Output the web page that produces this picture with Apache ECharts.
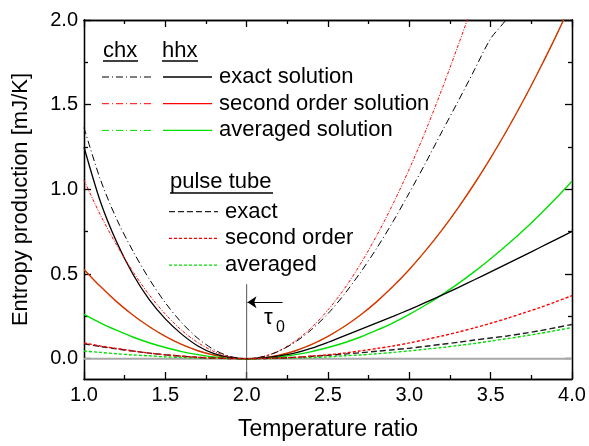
<!DOCTYPE html>
<html>
<head>
<meta charset="utf-8">
<title>Entropy production</title>
<script src="https://cdn.jsdelivr.net/npm/echarts@6.0.0/dist/echarts.min.js"></script>
<style>
html, body { margin: 0; padding: 0; background: #fff; }
#chart { width: 589px; height: 446px; }
</style>
</head>
<body>
<div id="chart"></div>
<script>
// temperature ratio samples
var temperatureRatio = [1.0, 1.1, 1.2, 1.3, 1.4, 1.5, 1.6, 1.7, 1.8, 1.9, 2.0,
  2.1, 2.2, 2.3, 2.4, 2.5, 2.6, 2.7, 2.8, 2.9, 3.0,
  3.1, 3.2, 3.3, 3.4, 3.5, 3.6, 3.7, 3.8, 3.9, 4.0];

// chx (dash-dot)
var chxExact = [1.365, 1.06, 0.826, 0.637, 0.472, 0.33, 0.213, 0.12, 0.053, 0.013, 0,
  0.012, 0.045, 0.099, 0.173, 0.266, 0.38, 0.51, 0.653, 0.81, 0.98,
  1.156, 1.34, 1.52, 1.705, 1.89, 2.01, 2.2, 2.37, 2.53, 2.72];
var chxSecond = [1.054, 0.85, 0.672, 0.515, 0.378, 0.263, 0.168, 0.095, 0.042, 0.0105, 0,
  0.012, 0.047, 0.105, 0.185, 0.288, 0.412, 0.56, 0.728, 0.915, 1.12,
  1.345, 1.59, 1.85, 2.12, 2.41, 2.72, 3.05, 3.4, 3.77, 4.15];

// hhx (solid)
var hhxExact = [1.25, 0.93, 0.69, 0.5, 0.35, 0.235, 0.145, 0.075, 0.03, 0.007, 0,
  0.004, 0.016, 0.034, 0.062, 0.097, 0.135, 0.173, 0.211, 0.25, 0.29,
  0.332, 0.375, 0.42, 0.466, 0.513, 0.56, 0.607, 0.655, 0.703, 0.752];
var hhxSecond = [0.527, 0.427, 0.337, 0.258, 0.19, 0.132, 0.084, 0.047, 0.021, 0.005, 0,
  0.005, 0.021, 0.047, 0.084, 0.132, 0.19, 0.258, 0.337, 0.427, 0.527,
  0.638, 0.759, 0.891, 1.033, 1.186, 1.349, 1.523, 1.708, 1.902, 2.108];
var hhxAveraged = [0.262, 0.212, 0.168, 0.128, 0.094, 0.066, 0.042, 0.024, 0.01, 0.003, 0,
  0.003, 0.01, 0.024, 0.042, 0.066, 0.094, 0.128, 0.168, 0.212, 0.262,
  0.317, 0.377, 0.443, 0.514, 0.59, 0.671, 0.757, 0.849, 0.946, 1.048];
// chx averaged lies on top of hhx second order
var chxAveraged = hhxSecond;

// pulse tube (dashed)
var ptExact = [0.088, 0.072, 0.058, 0.045, 0.033, 0.023, 0.015, 0.008, 0.004, 0.001, 0,
  0.001, 0.004, 0.008, 0.014, 0.02, 0.027, 0.035, 0.044, 0.053, 0.062,
  0.073, 0.085, 0.097, 0.11, 0.122, 0.134, 0.149, 0.165, 0.183, 0.202];
var ptSecond = [0.093, 0.075, 0.06, 0.046, 0.033, 0.023, 0.015, 0.008, 0.004, 0.001, 0,
  0.001, 0.004, 0.008, 0.015, 0.023, 0.033, 0.046, 0.06, 0.075, 0.093,
  0.113, 0.134, 0.157, 0.182, 0.209, 0.238, 0.269, 0.301, 0.336, 0.372];
var ptAveraged = [0.045, 0.037, 0.029, 0.022, 0.017, 0.011, 0.007, 0.004, 0.002, 0.0005, 0,
  0.0005, 0.002, 0.004, 0.007, 0.011, 0.017, 0.022, 0.029, 0.037, 0.046,
  0.056, 0.066, 0.078, 0.09, 0.104, 0.118, 0.133, 0.149, 0.166, 0.184];

// ticks
var xMajor = [1.0, 1.5, 2.0, 2.5, 3.0, 3.5, 4.0];
var xMinor = [1.25, 1.75, 2.25, 2.75, 3.25, 3.75];
var yMajor = [0, 0.5, 1.0, 1.5, 2.0];
var yMinor = [0.25, 0.75, 1.25, 1.75];

// tau0 marker
var tau0 = 2.0;
var tauLineTop = 0.44;
var arrowY = 0.333, arrowFrom = 2.22;

var FONT = '"Liberation Sans", Arial, sans-serif';
var RED = '#ff0000', GREEN = '#00e000', BLACK = '#000000';
var DASHDOT = [7, 3, 1, 3];
var X_MIN = 1, X_MAX = 4, Y_MIN = -0.12, Y_MAX = 2;

function pairs(arr) {
  return temperatureRatio.map(function (x, i) { return [x, arr[i]]; });
}

function curve(name, arr, color, type, width, z) {
  return {
    name: name, type: 'line', data: pairs(arr),
    symbol: 'none', smooth: 0.3, clip: true, silent: true, z: z,
    lineStyle: { color: color, width: width, type: type }
  };
}

function axisBase(min, max, pos, ticks, len) {
  return {
    type: 'value', min: min, max: max, position: pos,
    splitLine: { show: false },
    axisLine: { show: true, onZero: false, lineStyle: { color: '#000', width: 1.3 } },
    axisTick: { show: true, inside: true, length: len, customValues: ticks, lineStyle: { color: '#000', width: 1.3 } },
    axisLabel: { show: false }
  };
}

var xBottom = axisBase(X_MIN, X_MAX, 'bottom', xMajor, 7);
xBottom.axisLabel = {
  show: true, customValues: xMajor, margin: 6, color: '#000', fontSize: 20, fontFamily: FONT,
  formatter: function (v) { return v.toFixed(1); }
};
xBottom.name = 'Temperature ratio';
xBottom.nameLocation = 'middle';
xBottom.nameGap = 39;
xBottom.nameTextStyle = { color: '#000', fontSize: 23, fontFamily: FONT };

var yLeft = axisBase(Y_MIN, Y_MAX, 'left', yMajor, 7);
yLeft.axisLabel = {
  show: true, customValues: yMajor, margin: 6, color: '#000', fontSize: 20, fontFamily: FONT,
  formatter: function (v) { return v.toFixed(1); }
};
yLeft.name = 'Entropy production [mJ/K]';
yLeft.nameLocation = 'middle';
yLeft.nameGap = 52;
yLeft.nameTextStyle = { color: '#000', fontSize: 22, fontFamily: FONT };

var series = [
  // zero reference line
  { type: 'line', data: [[X_MIN, 0], [X_MAX, 0]], symbol: 'none', silent: true, z: 1,
    lineStyle: { color: '#a8a8a8', width: 2 } },
  // tau0 marker
  { type: 'line', data: [[tau0, Y_MIN], [tau0, tauLineTop]], symbol: 'none', silent: true, z: 1,
    lineStyle: { color: '#555', width: 1 },
    markLine: {
      silent: true, symbol: ['none', 'arrow'], symbolSize: 9, animation: false,
      label: { show: false },
      lineStyle: { color: '#000', width: 1.2, type: 'solid' },
      data: [[{ coord: [arrowFrom, arrowY] }, { coord: [tau0 + 0.005, arrowY] }]]
    } },
  curve('chx averaged', chxAveraged, GREEN, DASHDOT, 1, 2),
  curve('hhx second order', hhxSecond, '#dd3300', 'solid', 1.4, 3),
  curve('hhx averaged', hhxAveraged, GREEN, 'solid', 1.4, 3),
  curve('hhx exact', hhxExact, BLACK, 'solid', 1.3, 3),
  curve('chx second order', chxSecond, RED, [3, 1.5, 1, 1.5], 1, 4),
  curve('chx exact', chxExact, BLACK, DASHDOT, 1, 4),
  curve('pt averaged', ptAveraged, GREEN, [3, 2], 1.4, 5),
  curve('pt exact', ptExact, '#222', [6, 3], 1.4, 5),
  curve('pt second order', ptSecond, RED, [3, 2], 1.4, 6)
];

// legend block drawn by hand (two symbol columns)
function gLine(x1, y1, x2, y2, color, dash, w) {
  return { type: 'line', silent: true, z: 100,
    shape: { x1: x1, y1: y1, x2: x2, y2: y2 },
    style: { stroke: color, lineWidth: w || 1.2, lineDash: dash || null } };
}
function gText(x, y, text, size) {
  return { type: 'text', x: x, y: y, silent: true, z: 100,
    style: { text: text, fill: '#000', font: (size || 22) + 'px ' + FONT, verticalAlign: 'middle' } };
}

var graphics = [];
graphics.push(gText(103, 51, 'chx'));
graphics.push(gLine(103, 61, 138, 61, '#000', null, 1.4));
graphics.push(gText(162, 51, 'hhx'));
graphics.push(gLine(162, 61, 198, 61, '#000', null, 1.4));
var rows = [['exact solution', BLACK], ['second order solution', RED], ['averaged solution', GREEN]];
rows.forEach(function (r, i) {
  var y = 77 + 26.7 * i;
  graphics.push(gLine(102, y, 151, y, r[1], DASHDOT, 1));
  graphics.push(gLine(163, y, 212, y, r[1], null, 1.3));
  graphics.push(gText(219, y, r[0]));
});
graphics.push(gText(170, 182, 'pulse tube'));
graphics.push(gLine(170, 193, 273, 193, '#000', null, 1.4));
var ptRows = [['exact', '#222', [6, 3]], ['second order', RED, [3, 2]], ['averaged', GREEN, [3, 2]]];
ptRows.forEach(function (r, i) {
  var y = 211.7 + 26.7 * i;
  graphics.push(gLine(169, y, 218, y, r[1], r[2], 1.3));
  graphics.push(gText(225, y, r[0]));
});
graphics.push(gText(264, 318, 'τ', 22));
graphics.push(gText(276, 328, '0', 16));

var option = {
  animation: false,
  backgroundColor: '#fff',
  grid: { left: 84, right: 17, top: 20, bottom: 61, containLabel: false },
  xAxis: [
    xBottom,
    axisBase(X_MIN, X_MAX, 'bottom', xMinor, 4),
    axisBase(X_MIN, X_MAX, 'top', xMajor, 7),
    axisBase(X_MIN, X_MAX, 'top', xMinor, 4)
  ],
  yAxis: [
    yLeft,
    axisBase(Y_MIN, Y_MAX, 'left', yMinor, 4),
    axisBase(Y_MIN, Y_MAX, 'right', yMajor, 7),
    axisBase(Y_MIN, Y_MAX, 'right', yMinor, 4)
  ],
  series: series,
  graphic: graphics
};

var chart = echarts.init(document.getElementById('chart'), null, { renderer: 'canvas' });
chart.setOption(option);
</script>
</body>
</html>
